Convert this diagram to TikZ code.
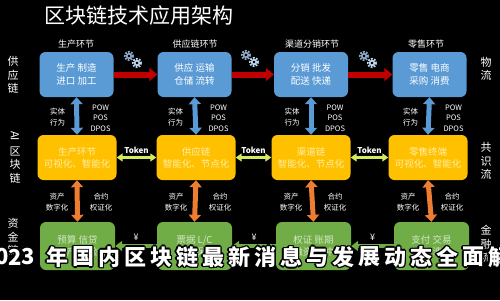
\documentclass[tikz,border=0pt]{standalone}
\usepackage{fontspec}
\setmainfont{Noto Sans CJK SC}
\usetikzlibrary{arrows.meta}
\definecolor{bluebox}{HTML}{5B9BD5}
\definecolor{yelbox}{HTML}{FFC000}
\definecolor{grnbox}{HTML}{70AD47}
\definecolor{redarr}{HTML}{C00000}
\definecolor{tokarr}{HTML}{D4EC5C}
\definecolor{orgarr}{HTML}{ED7D31}
\definecolor{bluearr}{HTML}{5B9BD5}
\definecolor{ytext}{HTML}{FFEFA8}
\definecolor{gtext}{HTML}{D5E8C8}
\definecolor{geara}{HTML}{8EA9C8}
\definecolor{gearb}{HTML}{BDD7EE}
\begin{document}
\begin{tikzpicture}[x=1pt,y=-1pt,
  bbox/.style={fill=bluebox, rounded corners=6pt, minimum width=74pt, minimum height=45pt, text=white, font=\fontsize{9.5}{13}\selectfont, align=center, inner sep=0pt},
  ybox/.style={fill=yelbox, rounded corners=6pt, minimum width=79pt, minimum height=45pt, text=ytext, font=\fontsize{9.5}{12}\selectfont, align=center, inner sep=0pt},
  gbox/.style={fill=grnbox, rounded corners=6pt, minimum width=75pt, minimum height=48pt, text=gtext, font=\fontsize{9.5}{12}\selectfont, align=center, inner sep=0pt},
  hdr/.style={text=white, font=\fontsize{9}{10}\selectfont, inner sep=0pt},
  side/.style={text=white, font=\fontsize{11}{13.5}\selectfont, align=center, inner sep=0pt},
  small/.style={text=white, font=\fontsize{7.5}{10.5}\selectfont, align=center, inner sep=0pt},
  redar/.style={draw=redarr, line width=6pt, -{Triangle[width=13pt,length=8pt]}},
  blar/.style={draw=bluearr, line width=5pt, {Triangle[width=12pt,length=7pt]}-{Triangle[width=12pt,length=7pt]}},
  tokar/.style={draw=tokarr, line width=3pt, {Triangle[width=8pt,length=6pt]}-{Triangle[width=8pt,length=6pt]}},
  orar/.style={draw=orgarr, line width=5pt, {Triangle[width=12pt,length=7pt]}-{Triangle[width=12pt,length=7pt]}},
  grar/.style={draw=grnbox, line width=4pt, -{Triangle[width=10pt,length=7pt]}},
  gearo/.style={line width=2.2pt, dash pattern=on 1.6pt off 1.3pt},
  ovw/.style={text=white, font=\fontsize{22}{22}\selectfont\bfseries, inner sep=0pt},
  ovk/.style={text=black, font=\fontsize{22}{22}\selectfont\bfseries, inner sep=0pt}
]
\fill[black] (0,0) rectangle (500,300);
\clip (0,0) rectangle (500,300);

% title
\node[text=white, font=\fontsize{21}{21}\selectfont, inner sep=0pt] (title) at (139,16) {区块链技术应用架构};

% headers
\node[hdr] (h1) at (76,44) {生产环节};
\node[hdr] (h2) at (195,44) {供应链环节};
\node[hdr] (h3) at (312,44) {渠道分销环节};
\node[hdr] (h4) at (426,44) {零售环节};

% blue row
\node[bbox] (b1) at (76.5,74.5) {生产\ 制造\\进口\ 加工};
\node[bbox] (b2) at (194.5,74.5) {供应\ 运输\\仓储\ 流转};
\node[bbox] (b3) at (311,74.5) {分销\ 批发\\配送\ 快递};
\node[bbox] (b4) at (429.5,74.5) {零售\ 电商\\采购\ 消费};

% yellow row
\node[ybox] (y1) at (77,157.5) {生产环节\\可视化、智能化};
\node[ybox] (y2) at (196,157.5) {供应链\\智能化、节点化};
\node[ybox] (y3) at (311,157.5) {渠道链\\智能化、节点化};
\node[ybox] (y4) at (428,157.5) {零售终端\\可视化、智能化};

% green row
\node[gbox] (g1) at (77.5,246) {预算\ 信贷\\资产\ 保险};
\node[gbox] (g2) at (194.5,246) {票据\ L/C\\承兑\ 保理};
\node[gbox] (g3) at (313.5,246) {权证\ 账期\\融资\ 对冲};
\node[gbox] (g4) at (431.5,246) {支付\ 交易\\结算\ 清算};

% red arrows
\draw[redar] (b1.east) -- (b2.west);
\draw[redar] (b2.east) -- (b3.west);
\draw[redar] (b3.east) -- (b4.west);

% gears
\foreach \gx/\gy [count=\k] in {129/56, 246/55, 364/56} {
  \draw[gearo, geara] (\gx,\gy) circle (4);
  \draw[geara, line width=1.6pt] (\gx,\gy) circle (2.3);
  \draw[gearo, gearb] (\gx+8,\gy+7) circle (4);
  \draw[gearb, line width=1.6pt] (\gx+8,\gy+7) circle (2.3);
}

% blue vertical arrows and labels
\foreach \n in {1,2,3,4} {
  \draw[blar] (b\n.south) -- (y\n.north);
  \node[small] (st\n) at ([xshift=-19pt]b\n.south |- 0,117) {实体\\行为};
  \node[small] (pw\n) at ([xshift=24pt]b\n.south |- 0,118) {POW\\POS\\DPOS};
}

% token arrows
\draw[tokar] (y1.east) -- (y2.west) node[midway, above=2pt, text=white, font=\fontsize{8}{9}\selectfont\bfseries, inner sep=0pt] (t1) {Token};
\draw[tokar] (y2.east) -- (y3.west) node[midway, above=2pt, text=white, font=\fontsize{8}{9}\selectfont\bfseries, inner sep=0pt] (t2) {Token};
\draw[tokar] (y3.east) -- (y4.west) node[midway, above=2pt, text=white, font=\fontsize{8}{9}\selectfont\bfseries, inner sep=0pt] (t3) {Token};

% orange vertical arrows and labels
\foreach \n in {1,2,3,4} {
  \draw[orar] (y\n.south) -- (g\n.north);
  \node[small] (zc\n) at ([xshift=-20pt]y\n.south |- 0,202) {资产\\数字化};
  \node[small] (hy\n) at ([xshift=24pt]y\n.south |- 0,202) {合约\\权证化};
}

% green arrows
\draw[grar] (g2.west) -- (g1.east) node[midway, above=4pt, text=white, font=\fontsize{9}{10}\selectfont, inner sep=0pt] (m1) {¥};
\draw[grar] (g3.west) -- (g2.east) node[midway, above=4pt, text=white, font=\fontsize{9}{10}\selectfont, inner sep=0pt] (m2) {¥};
\draw[grar] (g4.west) -- (g3.east) node[midway, above=4pt, text=white, font=\fontsize{9}{10}\selectfont, inner sep=0pt] (m3) {¥};

% side labels
\node[side] (sl1) at (13,75) {供\\应\\链};
\node[side, rotate=-90] (sl2a) at (15,136) {AI};
\node[side] (sl2) at (15,165) {区\\块\\链};
\node[side] (sl3) at (13,237) {资\\金\\链};
\node[side] (sr1) at (486,69) {物\\流};
\node[side] (sr2) at (486,161) {共\\识\\流};
\node[side] (sr3) at (486,244) {金\\融\\流};

% overlay caption
\foreach \dx/\dy [count=\j] in {-1.4/0,1.4/0,0/-1.4,0/1.4,-1/-1,1/1,-1/1,1/-1} {
  \foreach \d/\p [count=\i] in {2/-11,0/2,2/15,3/28} {
    \node[ovk] (ovd-\j-\i) at (\p+\dx,257+\dy) {\d};
  }
  \foreach \c [count=\i from 0] in {年,国,内,区,块,链,最,新,消,息,与,发,展,动,态,全,面,解,析} {
    \node[ovk] (ovk-\j-\i) at (57+26*\i+\dx,257+\dy) {\c};
  }
}
\foreach \d/\p [count=\i] in {2/-11,0/2,2/15,3/28} {
  \node[ovw] (ovd-\i) at (\p,257) {\d};
}
\foreach \c [count=\i from 0] in {年,国,内,区,块,链,最,新,消,息,与,发,展,动,态,全,面,解,析} {
  \node[ovw] (ovw-\i) at (57+26*\i,257) {\c};
}
\end{tikzpicture}
\end{document}
